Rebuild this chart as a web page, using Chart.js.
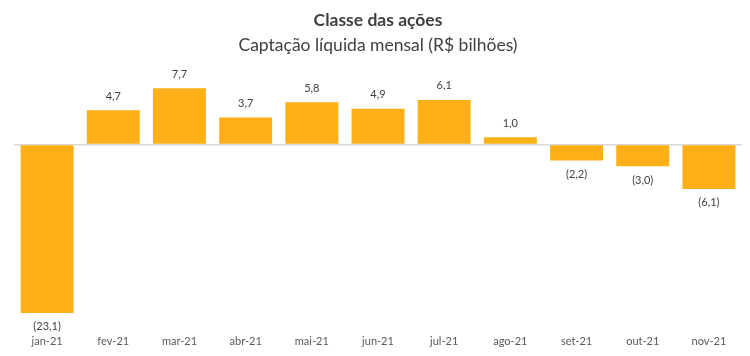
<!DOCTYPE html>
<html><head><meta charset="utf-8">
<script src="https://cdn.jsdelivr.net/npm/chart.js@4/dist/chart.umd.min.js"></script>
<style>html,body{margin:0;padding:0;background:#fff}#wrap{width:750px;height:356px}</style>
</head><body><div id="wrap"><canvas id="c"></canvas></div>
<script>
const categories = ["jan-21","fev-21","mar-21","abr-21","mai-21","jun-21","jul-21","ago-21","set-21","out-21","nov-21"];
const values = [-23.1, 4.7, 7.7, 3.7, 5.8, 4.9, 6.1, 1.0, -2.2, -3.0, -6.1];

function fmt(v){
  const s = Math.abs(v).toFixed(1).replace('.', ',');
  return v < 0 ? '(' + s + ')' : s;
}

const labelPlugin = {
  id: 'vlabels',
  afterDatasetsDraw(chart){
    const ctx = chart.ctx;
    const meta = chart.getDatasetMeta(0);
    ctx.save();
    ctx.font = '11px Lato, "Open Sans", sans-serif';
    ctx.fillStyle = '#404040';
    ctx.textAlign = 'center';
    ctx.textBaseline = 'middle';
    meta.data.forEach((bar, i) => {
      const v = values[i];
      const y = v >= 0 ? bar.y - 14 : bar.y + 14;
      ctx.fillText(fmt(v), bar.x, y);
    });
    ctx.restore();
  }
};

new Chart(document.getElementById('c'), {
  type: 'bar',
  data: { labels: categories, datasets: [{ data: values, backgroundColor: '#FCAF17', borderWidth: 0, categoryPercentage: 1, barPercentage: 0.8 }] },
  options: {
    responsive: true, maintainAspectRatio: false, animation: false,
    layout: { padding: { left: 14, right: 8, top: 0, bottom: 8 } },
    plugins: {
      legend: { display: false }, tooltip: { enabled: false },
      title: { display: true, text: 'Classe das ações', color: '#404040', font: { family: 'Lato, "Open Sans", sans-serif', size: 17.5, weight: 'bold' }, padding: { top: 10, bottom: 2 } },
      subtitle: { display: true, text: 'Captação líquida mensal (R$ bilhões)', color: '#404040', font: { family: 'Lato, "Open Sans", sans-serif', size: 17.5 }, padding: { top: 1.5, bottom: 16 } }
    },
    scales: {
      x: { grid: { display: false }, border: { display: false },
           ticks: { color: '#595959', font: { family: 'Lato, "Open Sans", sans-serif', size: 11 }, padding: 0 } },
      y: { display: true, min: -25, max: 10,
           grid: { color: ctx => ctx.tick && ctx.tick.value === 0 ? '#d9d9d9' : 'rgba(0,0,0,0)', drawTicks: false, lineWidth: 1.5 },
           border: { display: false }, ticks: { display: false, stepSize: 5 } }
    }
  },
  plugins: [labelPlugin]
});
</script></body></html>
